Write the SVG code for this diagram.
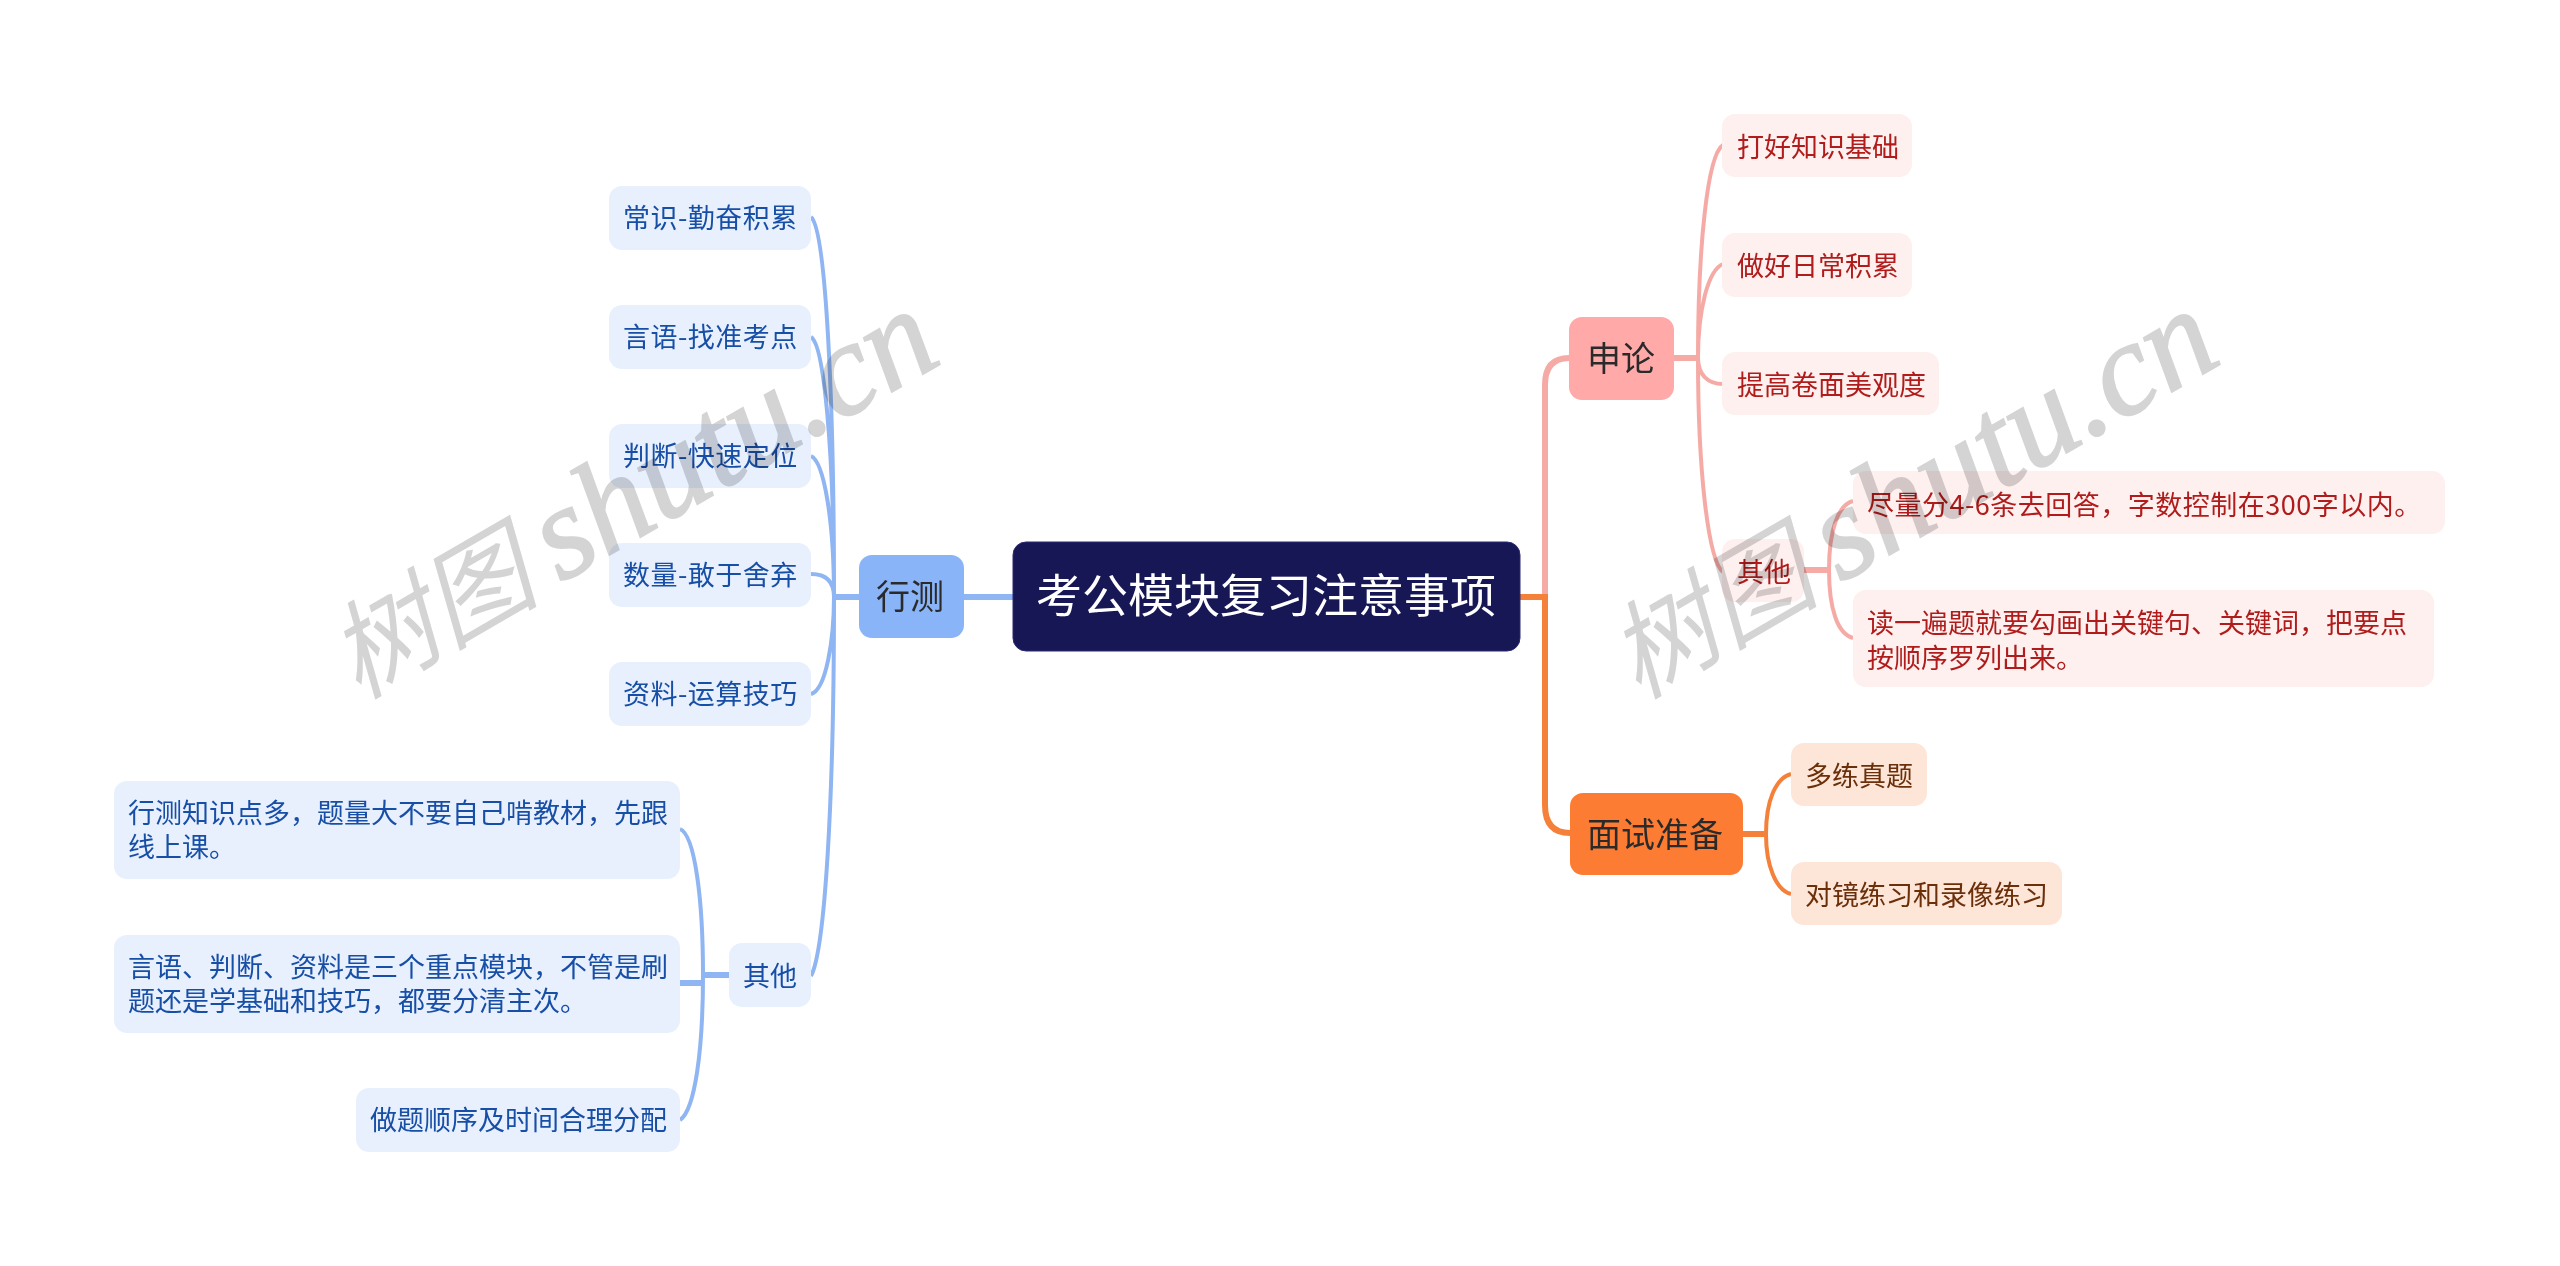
<svg xmlns="http://www.w3.org/2000/svg" width="2560" height="1266" viewBox="0 0 2560 1266">
<style>
text{font-family:"Noto Sans CJK SC","Liberation Sans",sans-serif;font-size:27px}
.c{fill:none;stroke-linecap:butt}
.b{stroke:#8fb5f2}.p{stroke:#f6aaa6}.o{stroke:#f4803a}
.w3{stroke-width:4}.w6{stroke-width:6}
.lb{fill:#e8f0fe}.lbt{fill:#174ea6}
.h{letter-spacing:.5px}
.lp{fill:#fdf0ee}.lpt{fill:#b01c1c}
.lo{fill:#fde6d8}.lot{fill:#6b2f0a}
.t1{font-size:34px;fill:#2a2a2a}
.wm{mix-blend-mode:multiply;font-family:"Liberation Serif","Noto Sans CJK SC",serif;font-style:italic;fill:#d4d4d4}
.wc{font-size:106px;font-weight:400}.wl{font-size:132px;font-weight:400;stroke:#d4d4d4;stroke-width:2}
</style>
<rect width="2560" height="1266" fill="#fff"/>
<g id="connectors">
<path class="c b w6" d="M964 597H1013M834 597H859M703 975H729M680 983H703"/>
<path class="c b w3" d="M811 217C826 230 834 400 834 597M811 337C824 345 834 450 834 597M811 456C824 462 834 520 834 597M811 574C825 574 834 580 834 597M811 694C826 690 834 640 834 597M811 976C825 950 834 800 834 597"/>
<path class="c b w3" d="M680 829C695 835 703 900 703 975M680 1120C695 1110 703 1050 703 975"/>
<path class="c p w6" d="M1545 597V385Q1545 358 1569 358M1674 358H1698M1804 570H1829"/>
<path class="c o w6" d="M1520 597H1545V805Q1545 833 1570 833M1743 834H1766"/>
<path class="c p w3" d="M1723 145C1707 155 1698 250 1698 358M1723 264C1708 270 1698 310 1698 358M1723 384C1708 384 1698 375 1698 358M1723 572C1708 560 1698 470 1698 358"/>
<path class="c p w3" d="M1853 501C1838 505 1829 530 1829 570M1853 638C1838 634 1829 610 1829 570"/>
<path class="c o w3" d="M1791 774C1776 778 1766 800 1766 834M1791 894C1776 890 1766 866 1766 834"/>
</g>
<g id="root"><rect x="1013" y="542" width="507" height="109" rx="13" fill="#171755" stroke="#2a2a70" stroke-width="1"/><text x="1036" y="612" style="font-size:46px" fill="#fff">考公模块复习注意事项</text></g>
<g id="n-xingce"><rect x="859" y="555" width="105" height="83" rx="13" fill="#8ab4f8"/><text class="t1" x="876" y="609">行测</text></g>
<g id="n-changshi"><rect class="lb" x="609" y="186" width="202" height="64" rx="13"/><text class="lbt h" x="623" y="228">常识-勤奋积累</text></g>
<g id="n-yanyu"><rect class="lb" x="609" y="305" width="202" height="64" rx="13"/><text class="lbt h" x="623" y="347">言语-找准考点</text></g>
<g id="n-panduan"><rect class="lb" x="609" y="424" width="202" height="64" rx="13"/><text class="lbt h" x="623" y="466">判断-快速定位</text></g>
<g id="n-shuliang"><rect class="lb" x="609" y="543" width="202" height="64" rx="13"/><text class="lbt h" x="623" y="585">数量-敢于舍弃</text></g>
<g id="n-ziliao"><rect class="lb" x="609" y="662" width="202" height="64" rx="13"/><text class="lbt h" x="623" y="704">资料-运算技巧</text></g>
<g id="n-qita-l"><rect class="lb" x="729" y="943" width="82" height="64" rx="13"/><text class="lbt" x="743" y="986">其他</text></g>
<g id="n-l1"><rect class="lb" x="114" y="781" width="566" height="98" rx="13"/><text class="lbt" x="128" y="823">行测知识点多，题量大不要自己啃教材，先跟</text><text class="lbt" x="128" y="857">线上课。</text></g>
<g id="n-l2"><rect class="lb" x="114" y="935" width="566" height="98" rx="13"/><text class="lbt" x="128" y="977">言语、判断、资料是三个重点模块，不管是刷</text><text class="lbt" x="128" y="1011">题还是学基础和技巧，都要分清主次。</text></g>
<g id="n-l3"><rect class="lb" x="356" y="1088" width="324" height="64" rx="13"/><text class="lbt" x="370" y="1130">做题顺序及时间合理分配</text></g>
<g id="n-shenlun"><rect x="1569" y="317" width="105" height="83" rx="13" fill="#ffa9a8"/><text class="t1" x="1587" y="371">申论</text></g>
<g id="n-dahao"><rect class="lp" x="1722" y="114" width="190" height="63" rx="13"/><text class="lpt" x="1737" y="157">打好知识基础</text></g>
<g id="n-zuohao"><rect class="lp" x="1722" y="233" width="190" height="64" rx="13"/><text class="lpt" x="1737" y="276">做好日常积累</text></g>
<g id="n-tigao"><rect class="lp" x="1722" y="352" width="217" height="63" rx="13"/><text class="lpt" x="1737" y="395">提高卷面美观度</text></g>
<g id="n-qita-r"><rect class="lp" x="1722" y="539" width="82" height="63" rx="13"/><text class="lpt" x="1737" y="582">其他</text></g>
<g id="n-r1"><rect class="lp" x="1853" y="471" width="592" height="63" rx="13"/><text class="lpt h" x="1867" y="515">尽量分4-6条去回答，字数控制在300字以内。</text></g>
<g id="n-r2"><rect class="lp" x="1853" y="590" width="581" height="97" rx="13"/><text class="lpt" x="1867" y="633">读一遍题就要勾画出关键句、关键词，把要点</text><text class="lpt" x="1867" y="668">按顺序罗列出来。</text></g>
<g id="n-mianshi"><rect x="1570" y="793" width="173" height="82" rx="13" fill="#fd7c34"/><text class="t1" x="1587" y="847">面试准备</text></g>
<g id="n-duolian"><rect class="lo" x="1791" y="743" width="136" height="63" rx="13"/><text class="lot" x="1805" y="786">多练真题</text></g>
<g id="n-duijing"><rect class="lo" x="1791" y="862" width="271" height="63" rx="13"/><text class="lot" x="1805" y="905">对镜练习和录像练习</text></g>
<g id="watermarks">
<text class="wm" transform="translate(358 700) rotate(-30)"><tspan class="wc">树图</tspan><tspan class="wl" dx="22">shutu.cn</tspan></text>
<text class="wm" transform="translate(1638 700) rotate(-30)"><tspan class="wc">树图</tspan><tspan class="wl" dx="22">shutu.cn</tspan></text>
</g>
</svg>
